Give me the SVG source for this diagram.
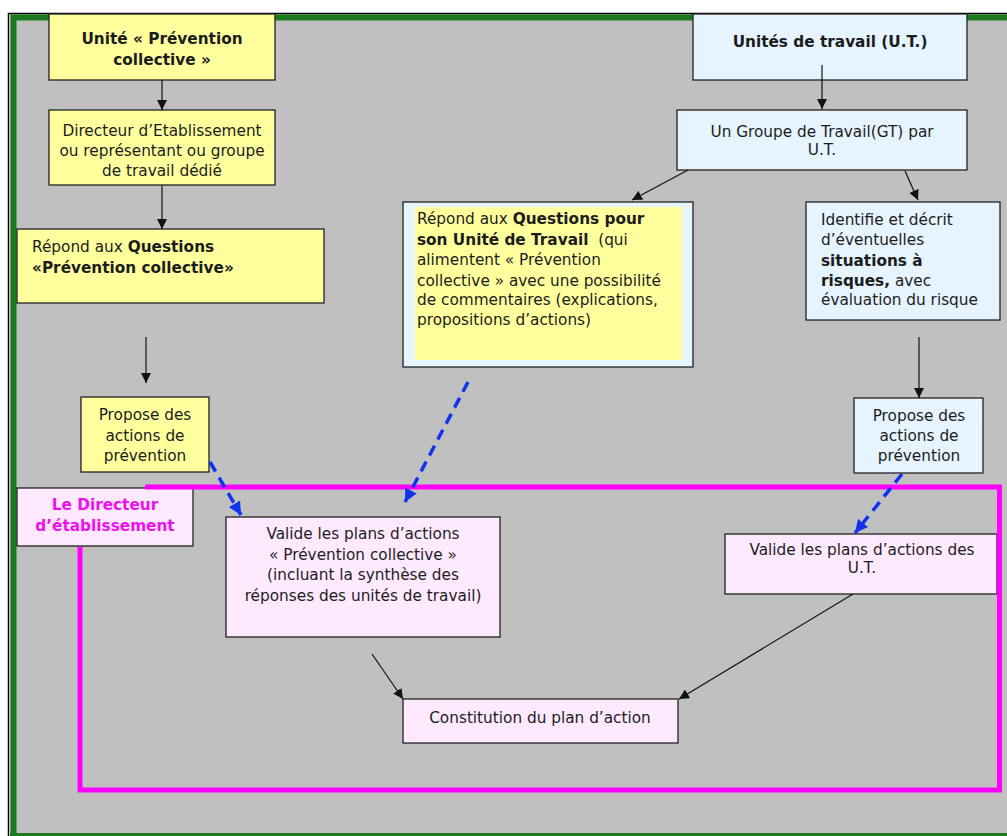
<svg xmlns="http://www.w3.org/2000/svg" width="1007" height="836" viewBox="0 0 1007 836">
<style>
.t{font-family:"DejaVu Sans","Liberation Sans",sans-serif;font-size:15.3px;fill:#1c1c1c}
.b{font-weight:bold}
.c{text-anchor:middle}
.box{stroke:#222;stroke-width:1.3}
.y{fill:#FFFF9E}
.p{fill:#FFE9FF}
.l{fill:#E6F4FF}
.arr{stroke:#111;stroke-width:1.2;fill:none;marker-end:url(#ah)}
.dash{stroke:#1133EE;stroke-width:3.5;fill:none;stroke-dasharray:11 7;marker-end:url(#bh)}
</style>
<defs>
<marker id="ah" markerUnits="userSpaceOnUse" markerWidth="10" markerHeight="10" refX="10" refY="5" orient="auto" viewBox="0 0 10 10"><path d="M0,0 L10,5 L0,10 z" fill="#111"/></marker>
<marker id="bh" markerUnits="userSpaceOnUse" markerWidth="13" markerHeight="13" refX="10" refY="5" orient="auto" viewBox="0 0 10 10"><path d="M0,0 L10,5 L0,10 z" fill="#1133EE"/></marker>
</defs>
<rect width="1007" height="836" fill="#fff"/>
<rect x="10" y="14" width="1000" height="824" fill="#C0C0C0"/>
<path d="M8.5,836 V13.5 H1007" fill="none" stroke="#000" stroke-width="1.5"/>
<path d="M13.5,836 V17.5 H1007" fill="none" stroke="#1E7A1E" stroke-width="6"/>
<path d="M10,834.5 H1007" fill="none" stroke="#1E7A1E" stroke-width="3"/>

<g id="n1"><rect class="box y" x="49" y="14" width="226" height="66"/>
<text class="t b c" x="162" y="44" font-size="16.5">Unité « Prévention</text>
<text class="t b c" x="162" y="65" font-size="16.5">collective »</text></g>

<g id="n2"><rect class="box y" x="49" y="110" width="226" height="75"/>
<text class="t c" x="162" y="136">Directeur d’Etablissement</text>
<text class="t c" x="162" y="156">ou représentant ou groupe</text>
<text class="t c" x="162" y="176">de travail dédié</text></g>

<g id="n3"><rect class="box y" x="17" y="229" width="307" height="74"/>
<text class="t" x="32" y="252">Répond aux <tspan class="b">Questions</tspan></text>
<text class="t b" x="32" y="273">«Prévention collective»</text></g>

<g id="n4"><rect class="box y" x="81" y="397" width="128" height="75"/>
<text class="t c" x="145" y="420">Propose des</text>
<text class="t c" x="145" y="441">actions de</text>
<text class="t c" x="145" y="461">prévention</text></g>

<g id="n5"><rect class="box l" x="403" y="202" width="290" height="165"/>
<rect x="415" y="207" width="267" height="153" fill="#FFFF9E"/>
<text class="t" x="417" y="224">Répond aux <tspan class="b">Questions pour</tspan></text>
<text class="t" x="417" y="245"><tspan class="b">son Unité de Travail</tspan>&#160; (qui</text>
<text class="t" x="417" y="265">alimentent « Prévention</text>
<text class="t" x="417" y="286">collective » avec une possibilité</text>
<text class="t" x="417" y="305">de commentaires (explications,</text>
<text class="t" x="417" y="325">propositions d’actions)</text></g>

<g id="n6"><rect class="box l" x="693" y="14" width="274" height="66"/>
<text class="t b c" x="830" y="47" font-size="16.5">Unités de travail (U.T.)</text></g>

<g id="n7"><rect class="box l" x="677" y="110" width="290" height="60"/>
<text class="t c" x="822" y="137">Un Groupe de Travail(GT) par</text>
<text class="t c" x="822" y="155">U.T.</text></g>

<g id="n8"><rect class="box l" x="806" y="202" width="194" height="118"/>
<text class="t" x="821" y="225">Identifie et décrit</text>
<text class="t" x="821" y="245">d’éventuelles</text>
<text class="t" x="821" y="266"><tspan class="b">situations à</tspan></text>
<text class="t" x="821" y="286"><tspan class="b">risques,</tspan> avec</text>
<text class="t" x="821" y="305">évaluation du risque</text></g>

<g id="n9"><rect class="box l" x="854" y="398" width="129" height="75"/>
<text class="t c" x="919" y="421">Propose des</text>
<text class="t c" x="919" y="441">actions de</text>
<text class="t c" x="919" y="461">prévention</text></g>

<g id="n10"><rect class="box p" x="17" y="488" width="176" height="58"/>
<text class="t b c" x="105" y="510" style="fill:#EE11EE">Le Directeur</text>
<text class="t b c" x="105" y="531" style="fill:#EE11EE">d’établissement</text></g>

<g id="n11"><rect class="box p" x="226" y="517" width="274" height="120"/>
<text class="t c" x="363" y="539">Valide les plans d’actions</text>
<text class="t c" x="363" y="560">« Prévention collective »</text>
<text class="t c" x="363" y="580">(incluant la synthèse des</text>
<text class="t c" x="363" y="601">réponses des unités de travail)</text></g>

<g id="n12"><rect class="box p" x="725" y="534" width="272" height="60"/>
<text class="t c" x="862" y="555">Valide les plans d’actions des</text>
<text class="t c" x="862" y="573">U.T.</text></g>

<g id="n13"><rect class="box p" x="403" y="699" width="275" height="44"/>
<text class="t c" x="540" y="723" font-size="16">Constitution du plan d’action</text></g>

<g id="frame"><path d="M80,547 V790 H999.5 V487 H145" fill="none" stroke="#FF00FF" stroke-width="5"/></g>

<g id="connectors">
<line class="arr" x1="162" y1="80" x2="162" y2="110"/>
<line class="arr" x1="162" y1="185" x2="162" y2="229"/>
<line class="arr" x1="146" y1="337" x2="146" y2="383"/>
<line class="arr" x1="822" y1="65" x2="822" y2="109"/>
<line class="arr" x1="688" y1="170" x2="632" y2="200"/>
<line class="arr" x1="905" y1="171" x2="918" y2="200"/>
<line class="arr" x1="919" y1="337" x2="919" y2="398"/>
<line class="arr" x1="372" y1="654" x2="403" y2="699"/>
<line class="arr" x1="853" y1="594" x2="679" y2="699"/>
<line class="dash" x1="210" y1="462" x2="241" y2="515"/>
<line class="dash" x1="468" y1="382" x2="405" y2="502"/>
<line class="dash" x1="902" y1="474" x2="855" y2="533"/>
</g>
</svg>
